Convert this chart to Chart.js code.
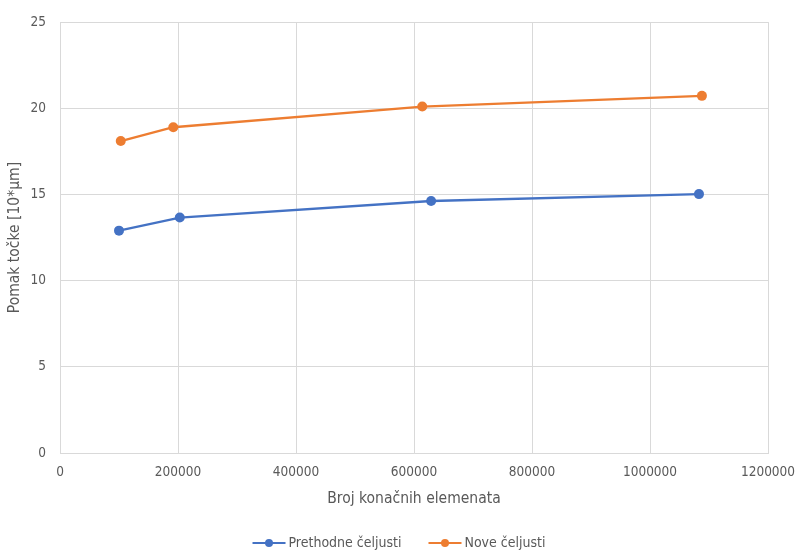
<!DOCTYPE html>
<html>
<head>
<meta charset="utf-8">
<script src="https://cdn.jsdelivr.net/npm/chart.js@4"></script>
<style>
  html, body { margin: 0; padding: 0; background: #fff; }
  #wrap { width: 798px; height: 553px; }
</style>
</head>
<body>
<div id="wrap"><canvas id="c" width="798" height="553"></canvas></div>
<script>
const seriesNames = ['Prethodne čeljusti', 'Nove čeljusti'];
const prethodneX = [100000, 203000, 629000, 1083000];
const prethodneY = [12.9, 13.66, 14.62, 15.02];
const noveX = [103000, 192000, 614000, 1088000];
const noveY = [18.1, 18.9, 20.1, 20.72];
const colors = ['#4472C4', '#ED7D31'];

const FONT = "'Liberation Sans Narrow', 'DejaVu Sans Condensed', 'Liberation Sans', sans-serif";
const TEXT = '#595959';
const GRID = '#d9d9d9';

function pts(xs, ys) {
  return xs.map((x, i) => ({ x: x, y: ys[i] }));
}

// Excel style legend: line with a dot, then the name, centred under the chart
const bottomLegend = {
  id: 'bottomLegend',
  afterDraw(chart) {
    const ctx = chart.ctx;
    const y = 543;
    const markW = 33, gapText = 3, gapItem = 27;
    ctx.save();
    ctx.font = '14px ' + FONT;
    ctx.textBaseline = 'middle';
    const widths = seriesNames.map(n => ctx.measureText(n).width);
    let total = 0;
    widths.forEach((w, i) => { total += markW + gapText + w + (i ? gapItem : 0); });
    let x = chart.width / 2 - total / 2;
    seriesNames.forEach((name, i) => {
      ctx.strokeStyle = colors[i];
      ctx.lineWidth = 2.2;
      ctx.beginPath(); ctx.moveTo(x, y); ctx.lineTo(x + markW, y); ctx.stroke();
      ctx.fillStyle = colors[i];
      ctx.beginPath(); ctx.arc(x + markW / 2, y, 4, 0, Math.PI * 2); ctx.fill();
      ctx.fillStyle = TEXT;
      ctx.fillText(name, x + markW + gapText, y);
      x += markW + gapText + widths[i] + gapItem;
    });
    ctx.restore();
  }
};

new Chart(document.getElementById('c'), {
  type: 'scatter',
  data: {
    datasets: [
      {
        label: seriesNames[0],
        data: pts(prethodneX, prethodneY),
        showLine: true,
        borderColor: colors[0],
        backgroundColor: colors[0],
        borderWidth: 2.3,
        pointRadius: 5,
        pointBorderWidth: 0,
        pointHoverRadius: 5
      },
      {
        label: seriesNames[1],
        data: pts(noveX, noveY),
        showLine: true,
        borderColor: colors[1],
        backgroundColor: colors[1],
        borderWidth: 2.3,
        pointRadius: 5,
        pointBorderWidth: 0,
        pointHoverRadius: 5
      }
    ]
  },
  options: {
    responsive: false,
    animation: false,
    layout: { padding: { top: 21, right: 30, left: 0, bottom: 33 } },
    plugins: {
      tooltip: { enabled: false },
      legend: { display: false }
    },
    scales: {
      x: {
        type: 'linear',
        min: 0,
        max: 1200000,
        ticks: {
          stepSize: 200000,
          color: TEXT,
          font: { family: FONT, size: 13.5 },
          padding: 11,
          maxRotation: 0,
          callback: (v) => String(v)
        },
        grid: { color: GRID, drawTicks: false },
        border: { color: GRID },
        title: {
          display: true,
          text: 'Broj konačnih elemenata',
          color: TEXT,
          font: { family: FONT, size: 15.5 },
          padding: { top: 4, bottom: 12 }
        },
        afterFit: (s) => { s.height = 67; s.paddingRight = 0; s.paddingLeft = 0; }
      },
      y: {
        min: 0,
        max: 25,
        ticks: {
          stepSize: 5,
          color: TEXT,
          font: { family: FONT, size: 13.5 },
          padding: 14
        },
        grid: { color: GRID, drawTicks: false },
        border: { color: GRID },
        title: {
          display: true,
          text: 'Pomak točke [10*µm]',
          color: TEXT,
          font: { family: FONT, size: 15.5 },
          padding: { top: 6, bottom: 0 }
        },
        afterFit: (s) => { s.width = 60; }
      }
    }
  },
  plugins: [bottomLegend]
});
</script>
</body>
</html>
